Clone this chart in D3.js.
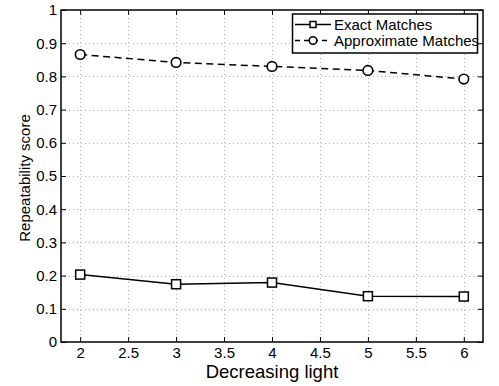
<!DOCTYPE html>
<html><head><meta charset="utf-8">
<script src="https://cdn.jsdelivr.net/npm/d3@7"></script>
<style>body{margin:0;background:#fff}svg{display:block}text{font-family:"Liberation Sans",Arial,Helvetica,sans-serif}</style>
</head><body><svg id="c" width="499" height="386"></svg>
<script>
const xValues = [2, 3, 4, 5, 6];
const exactMatches = [0.203, 0.174, 0.179, 0.138, 0.137];
const approxMatches = [0.866, 0.842, 0.830, 0.818, 0.792];
const xTicks = [2, 2.5, 3, 3.5, 4, 4.5, 5, 5.5, 6];
const yTicks = [0, 0.1, 0.2, 0.3, 0.4, 0.5, 0.6, 0.7, 0.8, 0.9, 1];
const seriesNames = ["Exact Matches", "Approximate Matches"];

const svg = d3.select("#c");
const L = 61, R = 483, T = 10, B = 342;
const x = d3.scaleLinear().domain([1.8, 6.2]).range([L, R]);
const y = d3.scaleLinear().domain([0, 1]).range([B, T]);

// grid
const g = svg.append("g");
g.selectAll(".gx").data(xTicks).enter().append("line")
  .attr("x1", d => Math.round(x(d)) + 0.5).attr("x2", d => Math.round(x(d)) + 0.5)
  .attr("y1", T).attr("y2", B)
  .attr("stroke", "#b0b0b0").attr("stroke-width", 1).attr("stroke-dasharray", "1,3");
g.selectAll(".gy").data(yTicks.slice(1, -1)).enter().append("line")
  .attr("y1", d => Math.round(y(d)) + 0.5).attr("y2", d => Math.round(y(d)) + 0.5)
  .attr("x1", L).attr("x2", R)
  .attr("stroke", "#b0b0b0").attr("stroke-width", 1).attr("stroke-dasharray", "1,3");

// axes
const fmt = d => d3.format("")(d);
const axB = svg.append("g").attr("transform", `translate(0,${B})`)
  .call(d3.axisBottom(x).tickValues(xTicks).tickSizeInner(-5).tickSizeOuter(0).tickPadding(5).tickFormat(fmt));
const axT = svg.append("g").attr("transform", `translate(0,${T})`)
  .call(d3.axisTop(x).tickValues(xTicks).tickSizeInner(-5).tickSizeOuter(0).tickFormat(""));
const axL = svg.append("g").attr("transform", `translate(${L},0)`)
  .call(d3.axisLeft(y).tickValues(yTicks).tickSizeInner(-5).tickSizeOuter(0).tickPadding(4).tickFormat(fmt));
const axR = svg.append("g").attr("transform", `translate(${R},0)`)
  .call(d3.axisRight(y).tickValues(yTicks).tickSizeInner(-5).tickSizeOuter(0).tickFormat(""));
[axB, axT, axL, axR].forEach(a => {
  a.select(".domain").remove();
  a.selectAll("line").attr("stroke", "#000").attr("stroke-width", 1);
  a.selectAll("text").attr("fill", "#000").style("font-size", "15px");
});
svg.append("rect").attr("x", L).attr("y", T).attr("width", R - L).attr("height", B - T)
  .attr("fill", "none").attr("stroke", "#000").attr("stroke-width", 1.5);

// labels
svg.append("text").attr("x", (L + R) / 2).attr("y", 378).attr("text-anchor", "middle")
  .style("font-size", "18.5px").text("Decreasing light");
svg.append("text").attr("transform", `translate(30,178) rotate(-90)`)
  .attr("text-anchor", "middle").style("font-size", "15px").text("Repeatability score");

// lines
const line = d3.line().x((d, i) => x(xValues[i])).y(d => y(d));
svg.append("path").datum(exactMatches).attr("d", line).attr("fill", "none").attr("stroke", "#000").attr("stroke-width", 1.5);
svg.append("path").datum(approxMatches).attr("d", line).attr("fill", "none").attr("stroke", "#000").attr("stroke-width", 1.5).attr("stroke-dasharray", "7,4.5");

svg.selectAll(".sq").data(exactMatches).enter().append("rect")
  .attr("x", (d, i) => x(xValues[i]) - 4.5).attr("y", d => y(d) - 4.5).attr("width", 9).attr("height", 9)
  .attr("fill", "#fff").attr("stroke", "#000").attr("stroke-width", 1.5);
svg.selectAll(".ci").data(approxMatches).enter().append("circle")
  .attr("cx", (d, i) => x(xValues[i])).attr("cy", d => y(d)).attr("r", 4.8)
  .attr("fill", "#fff").attr("stroke", "#000").attr("stroke-width", 1.6);

// legend
const lg = svg.append("g");
lg.append("rect").attr("x", 292.5).attr("y", 14).attr("width", 185).attr("height", 39)
  .attr("fill", "#fff").attr("stroke", "#000").attr("stroke-width", 1.5);
const rows = [24.5, 40.5];
lg.append("line").attr("x1", 295).attr("x2", 331).attr("y1", rows[0]).attr("y2", rows[0]).attr("stroke", "#000").attr("stroke-width", 1.5);
lg.append("rect").attr("x", 310).attr("y", rows[0] - 3).attr("width", 6).attr("height", 6).attr("fill", "#fff").attr("stroke", "#000").attr("stroke-width", 1.5);
lg.append("line").attr("x1", 295).attr("x2", 331).attr("y1", rows[1]).attr("y2", rows[1]).attr("stroke", "#000").attr("stroke-width", 1.5).attr("stroke-dasharray", "5,4");
lg.append("circle").attr("cx", 313).attr("cy", rows[1]).attr("r", 3.8).attr("fill", "#fff").attr("stroke", "#000").attr("stroke-width", 1.6);
lg.selectAll(".lt").data(seriesNames).enter().append("text")
  .attr("x", 334).attr("y", (d, i) => rows[i] + 5.5).style("font-size", "15px").text(d => d);
</script></body></html>
